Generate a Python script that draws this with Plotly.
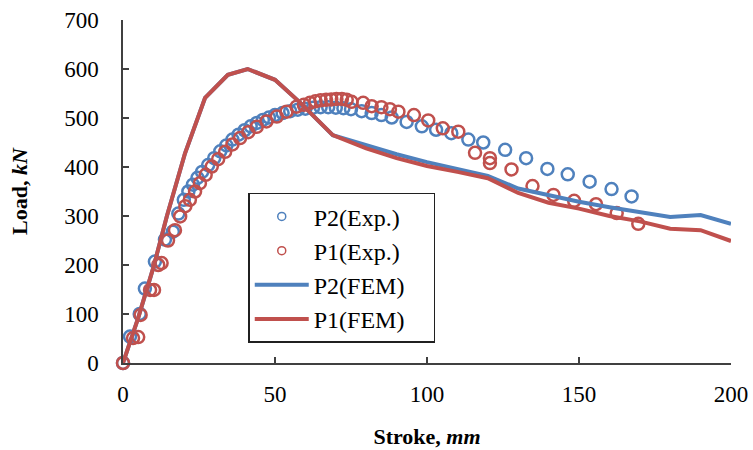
import plotly.graph_objects as go

# FEM curves
fem_x = [0, 5, 10, 14.4, 20.4, 27, 34.5, 41, 50, 58, 69, 80, 90, 100, 110, 120, 130, 140, 150, 160, 170, 180, 190, 200]
p1_fem = [0, 92, 195, 299, 428, 541, 588, 600, 578, 533, 465, 438, 418, 402, 390, 377, 347, 327, 315, 300, 289, 274, 271, 249]
p2_fem = [0, 92, 195, 299, 428, 541, 588, 600, 578, 533, 465, 445, 426, 410, 397, 382, 356, 342, 329, 318, 309, 298, 302, 284]

# Experimental points
p1_exp_x = [0, 3.3, 5, 5.8, 8.9, 10.2, 11.6, 12.7, 14.8, 17.1, 18.8, 20.5, 22, 23.7, 25.3, 27.2, 29.2, 31.3,
            33.6, 36, 38.5, 41.2, 44, 47.2, 50.6, 53.8, 57.1, 59.5, 61.5, 63.3, 65, 66.8, 68.5, 70.2, 72,
            73.6, 75.2, 79, 81.8, 85, 87.8, 90.6, 95.7, 100.4, 105.2, 110.3, 115.8, 120.7, 120.7, 127.8,
            134.7, 141.6, 148.4, 155.6, 162.4, 169.5]
p1_exp_y = [0, 51, 53, 98, 149, 149, 200, 204, 250, 271, 299, 320, 333, 350, 367, 384, 401, 416,
            431, 446, 459, 471, 482, 493, 503, 513, 523, 527, 531, 534, 536, 537, 538, 539, 539,
            537, 533, 531, 524, 522, 518, 513, 506, 495, 479, 472, 429, 418, 408, 395,
            361, 343, 331, 324, 306, 284]

p2_exp_x = [0, 2.3, 5.5, 7.2, 10.5, 13.8, 16.4, 18.2, 20, 21.5, 23, 24.5, 26, 28, 30, 32, 34, 36, 38, 40,
            42, 44, 46, 48, 50, 52.5, 55, 57.5, 60, 62.5, 65, 67.5, 70, 72.5, 75, 78.5, 81.8, 85, 88.4,
            93.3, 98.3, 103, 108, 113.6, 118.5, 125.7, 132.6, 139.6, 146.3, 153.5, 160.7, 167.3]
p2_exp_y = [0, 54, 100, 152, 207, 252, 268, 305, 333, 350, 364, 378, 390, 404, 418, 432, 444, 456, 466, 475,
            483, 490, 496, 501, 506, 510, 514, 517, 519, 521, 522, 522, 521, 520, 518, 514, 510, 506, 501,
            492, 483, 476, 469, 456, 450, 435, 418, 396, 385, 370, 355, 340]

legend_names = ["P2(Exp.)", "P1(Exp.)", "P2(FEM)", "P1(FEM)"]

BLUE = "#4F81BD"
RED = "#C0504D"
FONT = "Liberation Serif, Times New Roman, serif"
PAD = "\u00a0" * 4

fig = go.Figure()
fig.add_trace(go.Scatter(x=p2_exp_x, y=p2_exp_y, mode="markers", name=legend_names[0], showlegend=False,
                         cliponaxis=False,
                         marker=dict(symbol="circle-open", size=12, color=BLUE, line=dict(width=2.5, color=BLUE))))
fig.add_trace(go.Scatter(x=p1_exp_x, y=p1_exp_y, mode="markers", name=legend_names[1], showlegend=False,
                         cliponaxis=False,
                         marker=dict(symbol="circle-open", size=12, color=RED, line=dict(width=2.5, color=RED))))
fig.add_trace(go.Scatter(x=fem_x, y=p2_fem, mode="lines", name=legend_names[2], showlegend=False,
                         line=dict(color=BLUE, width=4)))
fig.add_trace(go.Scatter(x=fem_x, y=p1_fem, mode="lines", name=legend_names[3], showlegend=False,
                         line=dict(color=RED, width=4)))

# legend entries
fig.add_trace(go.Scatter(x=[None], y=[None], mode="markers", name=legend_names[0] + PAD,
                         marker=dict(symbol="circle-open", size=8, color=BLUE, line=dict(width=1.5, color=BLUE))))
fig.add_trace(go.Scatter(x=[None], y=[None], mode="markers", name=legend_names[1] + PAD,
                         marker=dict(symbol="circle-open", size=8, color=RED, line=dict(width=1.5, color=RED))))
fig.add_trace(go.Scatter(x=[None], y=[None], mode="lines", name=legend_names[2] + PAD, line=dict(color=BLUE, width=4)))
fig.add_trace(go.Scatter(x=[None], y=[None], mode="lines", name=legend_names[3] + PAD, line=dict(color=RED, width=4)))

axis_common = dict(showgrid=False, zeroline=False, showline=True, linecolor="#404040", linewidth=1.5,
                   ticks="inside", ticklen=6, tickwidth=1.5, tickcolor="#404040", automargin=False,
                   tickfont=dict(family=FONT, size=23, color="black"))

fig.update_layout(
    width=753, height=450,
    margin=dict(l=123, r=22, t=20, b=87),
    paper_bgcolor="white", plot_bgcolor="white",
    font=dict(family=FONT, color="black"),
    xaxis=dict(range=[0, 200], tickvals=[0, 50, 100, 150, 200], ticklabelstandoff=10,
               title=dict(text="<b>Stroke, <i>mm</i></b>", font=dict(family=FONT, size=22, color="black"),
                          standoff=22),
               **axis_common),
    yaxis=dict(range=[0, 700], tickvals=[0, 100, 200, 300, 400, 500, 600, 700], ticklabelstandoff=18,
               title=dict(text="<b>Load, <i>kN</i></b>", font=dict(family=FONT, size=22, color="black"),
                          standoff=30),
               **axis_common),
    legend=dict(x=0.206, y=0.496, xanchor="left", yanchor="top",
                bgcolor="white", bordercolor="#202020", borderwidth=1.5,
                font=dict(family=FONT, size=24, color="black"),
                tracegroupgap=0, itemwidth=54),
)

fig.write_html("out.html")
